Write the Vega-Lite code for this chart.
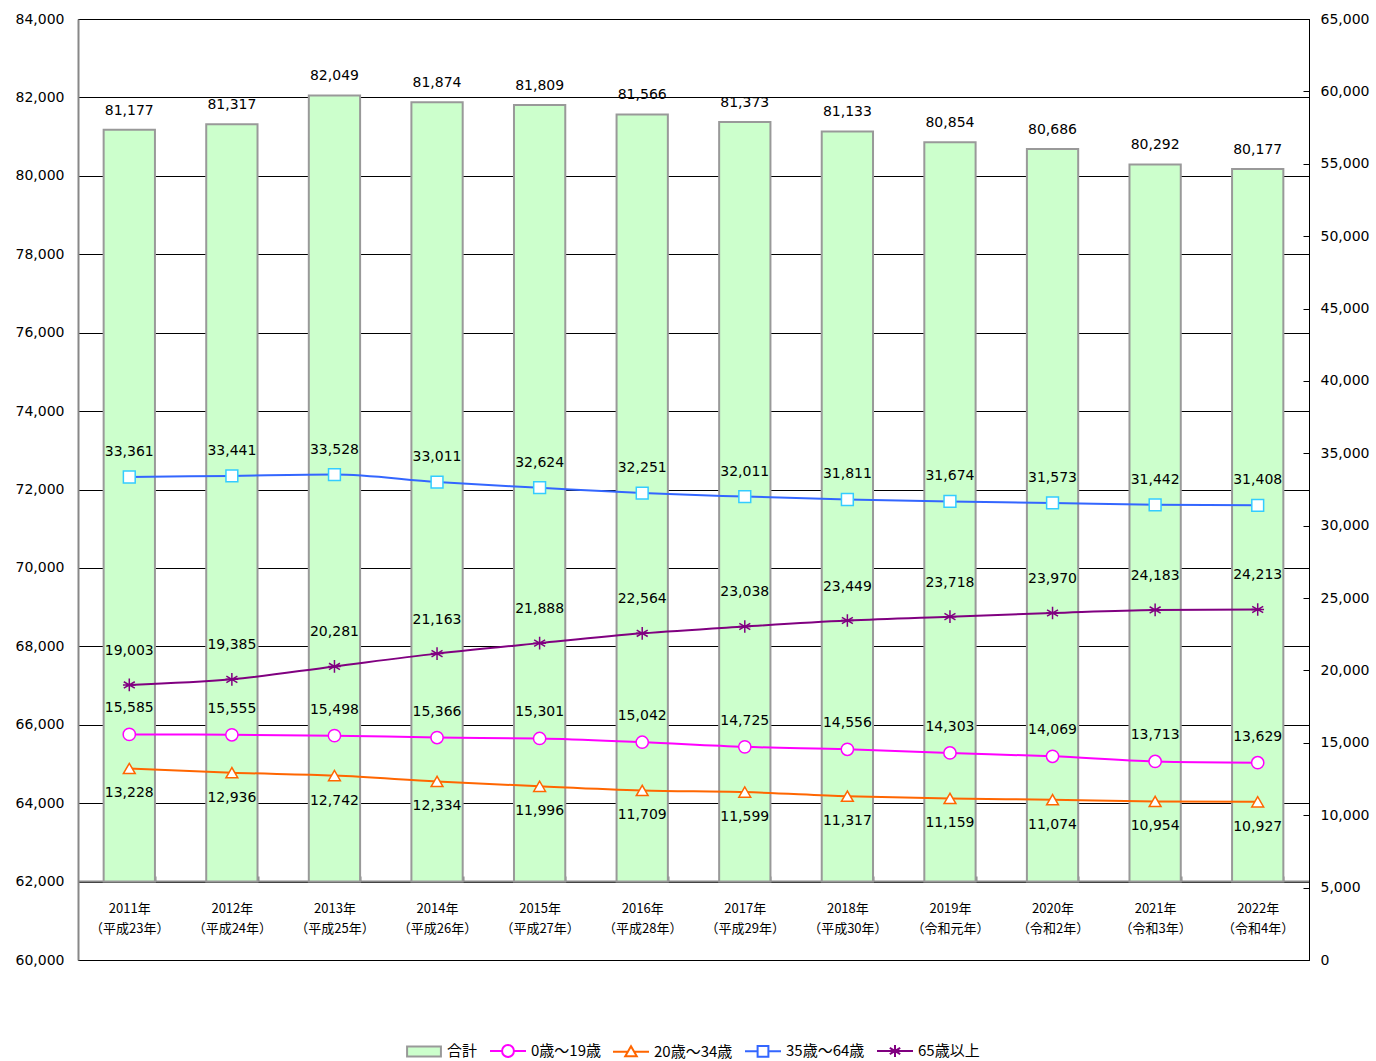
{
  "$schema": "https://vega.github.io/schema/vega-lite/v6.json",
  "autosize": "none",
  "width": 1231,
  "height": 941,
  "padding": {"left": 78, "top": 19, "right": 67, "bottom": 101},
  "background": "white",
  "config": {
    "view": {"stroke": "black", "strokeWidth": 1},
    "axis": {"labelColor": "black", "labelFont": "DejaVu Sans", "labelFontSize": 14},
    "legend": {
      "title": null, "orient": "none", "legendX": 327, "legendY": 1013, "direction": "horizontal",
      "padding": 0, "symbolSize": 1296, "symbolStrokeWidth": 2, "labelFont": "Noto Sans CJK JP",
      "labelFontSize": 15, "labelColor": "black", "labelOffset": 4, "columnPadding": 8, "symbolOpacity": 1
    }
  },
  "datasets": {
    "total": [
      {"year": "2011年|（平成23年）", "series": "合計", "value": 81177},
      {"year": "2012年|（平成24年）", "series": "合計", "value": 81317},
      {"year": "2013年|（平成25年）", "series": "合計", "value": 82049},
      {"year": "2014年|（平成26年）", "series": "合計", "value": 81874},
      {"year": "2015年|（平成27年）", "series": "合計", "value": 81809},
      {"year": "2016年|（平成28年）", "series": "合計", "value": 81566},
      {"year": "2017年|（平成29年）", "series": "合計", "value": 81373},
      {"year": "2018年|（平成30年）", "series": "合計", "value": 81133},
      {"year": "2019年|（令和元年）", "series": "合計", "value": 80854},
      {"year": "2020年|（令和2年）", "series": "合計", "value": 80686},
      {"year": "2021年|（令和3年）", "series": "合計", "value": 80292},
      {"year": "2022年|（令和4年）", "series": "合計", "value": 80177}
    ],
    "ages": [
      {"year": "2011年|（平成23年）", "series": "0歳～19歳", "value": 15585},
      {"year": "2012年|（平成24年）", "series": "0歳～19歳", "value": 15555},
      {"year": "2013年|（平成25年）", "series": "0歳～19歳", "value": 15498},
      {"year": "2014年|（平成26年）", "series": "0歳～19歳", "value": 15366},
      {"year": "2015年|（平成27年）", "series": "0歳～19歳", "value": 15301},
      {"year": "2016年|（平成28年）", "series": "0歳～19歳", "value": 15042},
      {"year": "2017年|（平成29年）", "series": "0歳～19歳", "value": 14725},
      {"year": "2018年|（平成30年）", "series": "0歳～19歳", "value": 14556},
      {"year": "2019年|（令和元年）", "series": "0歳～19歳", "value": 14303},
      {"year": "2020年|（令和2年）", "series": "0歳～19歳", "value": 14069},
      {"year": "2021年|（令和3年）", "series": "0歳～19歳", "value": 13713},
      {"year": "2022年|（令和4年）", "series": "0歳～19歳", "value": 13629},
      {"year": "2011年|（平成23年）", "series": "20歳～34歳", "value": 13228},
      {"year": "2012年|（平成24年）", "series": "20歳～34歳", "value": 12936},
      {"year": "2013年|（平成25年）", "series": "20歳～34歳", "value": 12742},
      {"year": "2014年|（平成26年）", "series": "20歳～34歳", "value": 12334},
      {"year": "2015年|（平成27年）", "series": "20歳～34歳", "value": 11996},
      {"year": "2016年|（平成28年）", "series": "20歳～34歳", "value": 11709},
      {"year": "2017年|（平成29年）", "series": "20歳～34歳", "value": 11599},
      {"year": "2018年|（平成30年）", "series": "20歳～34歳", "value": 11317},
      {"year": "2019年|（令和元年）", "series": "20歳～34歳", "value": 11159},
      {"year": "2020年|（令和2年）", "series": "20歳～34歳", "value": 11074},
      {"year": "2021年|（令和3年）", "series": "20歳～34歳", "value": 10954},
      {"year": "2022年|（令和4年）", "series": "20歳～34歳", "value": 10927},
      {"year": "2011年|（平成23年）", "series": "35歳～64歳", "value": 33361},
      {"year": "2012年|（平成24年）", "series": "35歳～64歳", "value": 33441},
      {"year": "2013年|（平成25年）", "series": "35歳～64歳", "value": 33528},
      {"year": "2014年|（平成26年）", "series": "35歳～64歳", "value": 33011},
      {"year": "2015年|（平成27年）", "series": "35歳～64歳", "value": 32624},
      {"year": "2016年|（平成28年）", "series": "35歳～64歳", "value": 32251},
      {"year": "2017年|（平成29年）", "series": "35歳～64歳", "value": 32011},
      {"year": "2018年|（平成30年）", "series": "35歳～64歳", "value": 31811},
      {"year": "2019年|（令和元年）", "series": "35歳～64歳", "value": 31674},
      {"year": "2020年|（令和2年）", "series": "35歳～64歳", "value": 31573},
      {"year": "2021年|（令和3年）", "series": "35歳～64歳", "value": 31442},
      {"year": "2022年|（令和4年）", "series": "35歳～64歳", "value": 31408},
      {"year": "2011年|（平成23年）", "series": "65歳以上", "value": 19003},
      {"year": "2012年|（平成24年）", "series": "65歳以上", "value": 19385},
      {"year": "2013年|（平成25年）", "series": "65歳以上", "value": 20281},
      {"year": "2014年|（平成26年）", "series": "65歳以上", "value": 21163},
      {"year": "2015年|（平成27年）", "series": "65歳以上", "value": 21888},
      {"year": "2016年|（平成28年）", "series": "65歳以上", "value": 22564},
      {"year": "2017年|（平成29年）", "series": "65歳以上", "value": 23038},
      {"year": "2018年|（平成30年）", "series": "65歳以上", "value": 23449},
      {"year": "2019年|（令和元年）", "series": "65歳以上", "value": 23718},
      {"year": "2020年|（令和2年）", "series": "65歳以上", "value": 23970},
      {"year": "2021年|（令和3年）", "series": "65歳以上", "value": 24183},
      {"year": "2022年|（令和4年）", "series": "65歳以上", "value": 24213}
    ]
  },
  "layer": [
    {
      "data": {"name": "total"},
      "layer": [
        {
          "mark": {"type": "bar", "fill": "#CCFFCC", "stroke": "#999999", "strokeWidth": 2},
          "encoding": {
            "x": {
              "field": "year", "type": "nominal", "sort": null,
              "scale": {"paddingInner": 0.5, "paddingOuter": 0.25},
              "axis": {
                "title": null, "orient": "bottom", "offset": -79, "labelAngle": 0,
                "labelExpr": "split(datum.label, '|')",
                "labelFont": "Noto Sans CJK JP", "labelFontSize": 13, "labelLineHeight": 20,
                "labelPadding": 26, "domainColor": "#888888", "domainWidth": 2,
                "ticks": true, "tickBand": "extent", "tickSize": -5, "tickColor": "#888888", "tickWidth": 2,
                "grid": false
              }
            },
            "y": {
              "field": "value", "type": "quantitative",
              "scale": {"domain": [60000, 84000], "zero": false, "nice": false},
              "axis": {
                "title": null, "orient": "left", "values": [60000, 62000, 64000, 66000, 68000, 70000, 72000, 74000, 76000, 78000, 80000, 82000, 84000],
                "format": ",d", "grid": true, "gridColor": "black", "gridWidth": 1, "gridOpacity": 1,
                "ticks": false, "labelPadding": 14, "domainColor": "#888888", "domainWidth": 2
              }
            },
            "y2": {"datum": 62000}
          }
        },
        {
          "mark": {"type": "text", "dy": -19, "font": "DejaVu Sans", "fontSize": 14, "color": "black"},
          "encoding": {
            "x": {"field": "year", "type": "nominal", "sort": null},
            "y": {"field": "value", "type": "quantitative"},
            "text": {"field": "value", "type": "quantitative", "format": ",d"}
          }
        }
      ]
    },
    {
      "data": {"name": "ages"},
      "layer": [
        {
          "mark": {"type": "line", "interpolate": "monotone", "strokeWidth": 2},
          "encoding": {
            "x": {"field": "year", "type": "nominal", "sort": null},
            "y": {
              "field": "value", "type": "quantitative",
              "scale": {"domain": [0, 65000], "nice": false},
              "axis": {
                "title": null, "orient": "right", "values": [0, 5000, 10000, 15000, 20000, 25000, 30000, 35000, 40000, 45000, 50000, 55000, 60000, 65000],
                "format": ",d", "grid": false, "ticks": true, "tickSize": -6, "tickColor": "black",
                "domainColor": "black", "domainWidth": 1, "labelPadding": 17
              }
            },
            "stroke": {
              "field": "series", "type": "nominal",
              "scale": {"domain": ["0歳～19歳", "20歳～34歳", "35歳～64歳", "65歳以上"], "range": ["#FF00FF", "#FF6600", "#3366FF", "#800080"]},
              "legend": null
            }
          }
        },
        {
          "transform": [{"filter": "datum.series === '0歳～19歳'"}],
          "mark": {"type": "point", "shape": "circle", "filled": true, "fill": "white", "stroke": "#FF00FF", "strokeWidth": 1.5, "size": 150, "opacity": 1},
          "encoding": {
            "x": {"field": "year", "type": "nominal", "sort": null},
            "y": {"field": "value", "type": "quantitative"}
          }
        },
        {
          "transform": [{"filter": "datum.series === '20歳～34歳'"}],
          "mark": {"type": "point", "shape": "triangle-up", "filled": true, "fill": "white", "stroke": "#FF6600", "strokeWidth": 1.5, "size": 140, "opacity": 1},
          "encoding": {
            "x": {"field": "year", "type": "nominal", "sort": null},
            "y": {"field": "value", "type": "quantitative"}
          }
        },
        {
          "transform": [{"filter": "datum.series === '35歳～64歳'"}],
          "mark": {"type": "point", "shape": "square", "filled": true, "fill": "white", "stroke": "#33CCFF", "strokeWidth": 1.5, "size": 140, "opacity": 1},
          "encoding": {
            "x": {"field": "year", "type": "nominal", "sort": null},
            "y": {"field": "value", "type": "quantitative"}
          }
        },
        {
          "transform": [{"filter": "datum.series === '65歳以上'"}],
          "mark": {"type": "point", "shape": "M-1,0H1M0,-1V1M-0.87,-0.5L0.87,0.5M-0.87,0.5L0.87,-0.5", "filled": true, "fill": "white", "stroke": "#800080", "strokeWidth": 1.5, "size": 160, "opacity": 1},
          "encoding": {
            "x": {"field": "year", "type": "nominal", "sort": null},
            "y": {"field": "value", "type": "quantitative"}
          }
        },
        {
          "mark": {"type": "point", "filled": false, "opacity": 0, "strokeWidth": 2},
          "encoding": {
            "x": {"field": "year", "type": "nominal", "sort": null},
            "y": {"field": "value", "type": "quantitative"},
            "color": {
              "field": "series", "type": "nominal",
              "scale": {"domain": ["合計", "0歳～19歳", "20歳～34歳", "35歳～64歳", "65歳以上"], "range": ["#999999", "#FF00FF", "#FF6600", "#3366FF", "#800080"]}
            },
            "fill": {
              "field": "series", "type": "nominal",
              "scale": {"domain": ["合計", "0歳～19歳", "20歳～34歳", "35歳～64歳", "65歳以上"], "range": ["#CCFFCC", "#FFFFFF", "#FFFFFF", "#FFFFFF", "#FFFFFF"]}
            },
            "shape": {
              "field": "series", "type": "nominal",
              "scale": {"domain": ["合計", "0歳～19歳", "20歳～34歳", "35歳～64歳", "65歳以上"], "range": ["M-0.94,-0.28H0.94V0.28H-0.94Z", "M-1,0H-0.33M0.33,0H1M-0.33,0A0.33,0.33 0 1,1 0.33,0A0.33,0.33 0 1,1 -0.33,0Z", "M-1,0H-0.2M0.2,0H1M0,-0.3L0.32,0.26H-0.32Z", "M-1,0H-0.3M0.3,0H1M-0.3,-0.3H0.3V0.3H-0.3Z", "M-1,0H1M0,-0.33V0.33M-0.29,-0.17L0.29,0.17M-0.29,0.17L0.29,-0.17"]}
            }
          }
        },
        {
          "transform": [{"filter": "datum.series === '35歳～64歳'"}],
          "mark": {"type": "text", "dy": -25, "font": "DejaVu Sans", "fontSize": 14, "color": "black"},
          "encoding": {
            "x": {"field": "year", "type": "nominal", "sort": null},
            "y": {"field": "value", "type": "quantitative"},
            "text": {"field": "value", "type": "quantitative", "format": ",d"}
          }
        },
        {
          "transform": [{"filter": "datum.series === '65歳以上'"}],
          "mark": {"type": "text", "dy": -34, "font": "DejaVu Sans", "fontSize": 14, "color": "black"},
          "encoding": {
            "x": {"field": "year", "type": "nominal", "sort": null},
            "y": {"field": "value", "type": "quantitative"},
            "text": {"field": "value", "type": "quantitative", "format": ",d"}
          }
        },
        {
          "transform": [{"filter": "datum.series === '0歳～19歳'"}],
          "mark": {"type": "text", "dy": -26, "font": "DejaVu Sans", "fontSize": 14, "color": "black"},
          "encoding": {
            "x": {"field": "year", "type": "nominal", "sort": null},
            "y": {"field": "value", "type": "quantitative"},
            "text": {"field": "value", "type": "quantitative", "format": ",d"}
          }
        },
        {
          "transform": [{"filter": "datum.series === '20歳～34歳'"}],
          "mark": {"type": "text", "dy": 25, "font": "DejaVu Sans", "fontSize": 14, "color": "black"},
          "encoding": {
            "x": {"field": "year", "type": "nominal", "sort": null},
            "y": {"field": "value", "type": "quantitative"},
            "text": {"field": "value", "type": "quantitative", "format": ",d"}
          }
        }
      ]
    }
  ],
  "resolve": {"scale": {"y": "independent"}}
}
